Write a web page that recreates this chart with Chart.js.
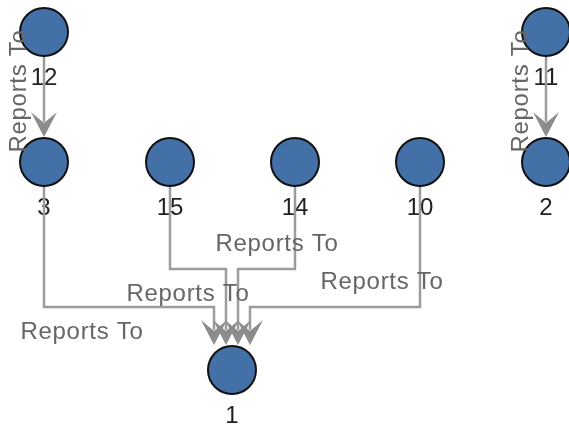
<!DOCTYPE html>
<html><head><meta charset="utf-8">
<script src="https://cdn.jsdelivr.net/npm/chart.js@4/dist/chart.umd.min.js"></script>
<style>html,body{margin:0;padding:0;background:#fff;overflow:hidden}</style>
</head><body>
<canvas id="c" width="569" height="429" style="display:block;width:569px;height:429px"></canvas>
<script>
// ---- data ----
const nodeIds = ['12', '3', '15', '14', '10', '11', '2', '1'];
const nodeX   = [44, 44, 170, 295, 420, 546, 546, 232];
const nodeY   = [32, 162, 162, 162, 162, 32, 162, 370];
const edgeFrom   = ['12', '3', '15', '14', '10', '11'];
const edgeTo     = ['3', '1', '1', '1', '1', '2'];
const edgeLabels = ['Reports To', 'Reports To', 'Reports To', 'Reports To', 'Reports To', 'Reports To'];

// ---- styling / layout constants ----
const R = 24, ARROW_L = 25, ARROW_W = 26, FONT = '24px "Liberation Sans", Arial, sans-serif';
const EDGE_COL = '#9c9c9c', ARROW_COL = '#8c8c8c';

const idx = id => nodeIds.indexOf(id);
const incoming = {};
edgeTo.forEach((t, i) => { (incoming[t] = incoming[t] || []).push(i); });

const routes = edgeFrom.map((f, i) => {
  const s = idx(f), t = idx(edgeTo[i]);
  const sx = nodeX[s], sy = nodeY[s], tx = nodeX[t], ty = nodeY[t];
  const tipY = ty - R - 1;
  const endY = tipY - ARROW_L * 0.6;
  if (sx === tx) {
    return { pts: [{x: sx, y: sy + R}, {x: tx, y: endY}], tip: {x: tx, y: tipY},
             label: {x: sx - 25, y: (sy + ty) / 2 - 6, rot: -Math.PI / 2} };
  }
  const group = incoming[edgeTo[i]].slice().sort((a, b) => nodeX[idx(edgeFrom[a])] - nodeX[idx(edgeFrom[b])]);
  const k = group.indexOf(i), n = group.length;
  const d = k - (n - 1) / 2;
  const ex = tx + d * 12;
  const bendY = ty - 120 + 38 * Math.abs(d);
  const dir = Math.sign(ex - sx);
  return { pts: [{x: sx, y: sy + R}, {x: sx, y: bendY}, {x: ex, y: bendY}, {x: ex, y: endY}],
           tip: {x: ex, y: tipY},
           label: {x: sx + dir * (8 + 20 * Math.abs(d)), y: bendY + (dir > 0 ? 25 : -25), rot: 0} };
});

const edgeDatasets = routes.map(r => ({
  type: 'line', data: r.pts, showLine: true, borderColor: EDGE_COL, borderWidth: 2.5,
  pointRadius: 0, fill: false, tension: 0, order: 2
}));

const nodeDataset = {
  type: 'scatter',
  data: nodeIds.map((id, i) => ({x: nodeX[i], y: nodeY[i]})),
  pointRadius: R, pointHoverRadius: R,
  backgroundColor: '#4470a8', borderColor: '#111', borderWidth: 2, order: 0
};

const graphPlugin = {
  id: 'graph',
  beforeDatasetsDraw(chart) {
    const ctx = chart.ctx, xs = chart.scales.x, ys = chart.scales.y;
    ctx.save();
    ctx.font = FONT; ctx.fillStyle = '#222'; ctx.textAlign = 'center'; ctx.textBaseline = 'middle';
    nodeIds.forEach((id, i) => ctx.fillText(id, xs.getPixelForValue(nodeX[i]), ys.getPixelForValue(nodeY[i] + 46)));
    ctx.restore();
  },
  beforeDatasetDraw(chart, args) {
    if (args.meta.type !== 'scatter') return;
    const ctx = chart.ctx, xs = chart.scales.x, ys = chart.scales.y;
    ctx.save();
    ctx.fillStyle = ARROW_COL;
    routes.forEach(r => {
      const x = xs.getPixelForValue(r.tip.x), y = ys.getPixelForValue(r.tip.y);
      ctx.beginPath();
      ctx.moveTo(x, y);
      ctx.lineTo(x - ARROW_W / 2, y - ARROW_L);
      ctx.lineTo(x, y - ARROW_L * 0.56);
      ctx.lineTo(x + ARROW_W / 2, y - ARROW_L);
      ctx.closePath();
      ctx.fill();
    });
    ctx.restore();
  },
  afterDatasetsDraw(chart) {
    const ctx = chart.ctx, xs = chart.scales.x, ys = chart.scales.y;
    ctx.save();
    ctx.font = FONT; ctx.fillStyle = '#666'; ctx.textAlign = 'center'; ctx.textBaseline = 'middle';
    try { ctx.letterSpacing = '0.7px'; } catch (e) {}
    routes.forEach((r, i) => {
      ctx.save();
      ctx.translate(xs.getPixelForValue(r.label.x), ys.getPixelForValue(r.label.y));
      ctx.rotate(r.label.rot);
      ctx.fillText(edgeLabels[i], 0, 0);
      ctx.restore();
    });
    ctx.restore();
  }
};

new Chart(document.getElementById('c'), {
  type: 'scatter',
  data: { datasets: [nodeDataset, ...edgeDatasets] },
  options: {
    responsive: false, animation: false, devicePixelRatio: 1, events: [],
    layout: { padding: 0, autoPadding: false },
    plugins: { legend: { display: false }, tooltip: { enabled: false } },
    scales: {
      x: { type: 'linear', min: 0, max: 569, display: false },
      y: { type: 'linear', min: 0, max: 429, reverse: true, display: false }
    },
    elements: { point: { hitRadius: 0 } }
  },
  plugins: [graphPlugin]
});
</script>
</body></html>
